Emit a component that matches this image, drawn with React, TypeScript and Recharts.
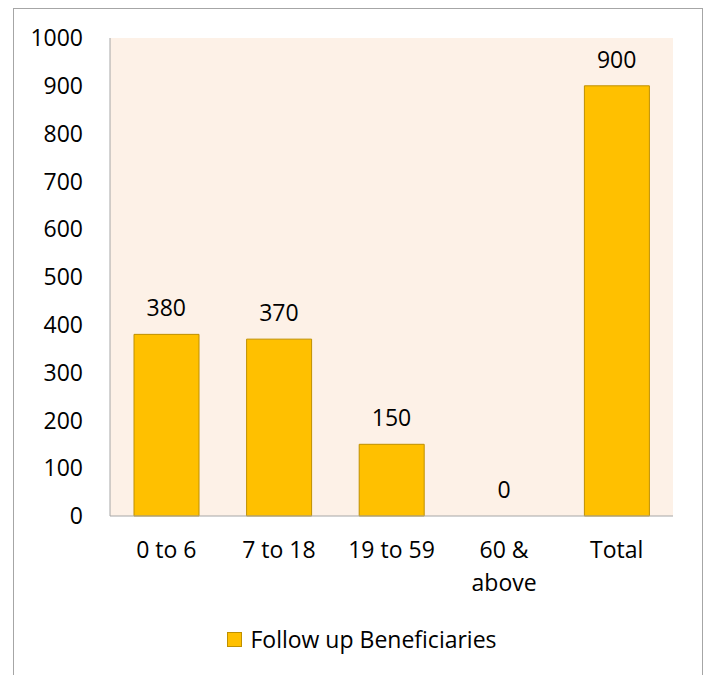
import React from 'react';
import { ComposedChart, Bar, Line, XAxis, YAxis, CartesianGrid, LabelList, Legend } from 'recharts';

const categories = ['0 to 6', '7 to 18', '19 to 59', '60 & above', 'Total'];
const followUp = [380, 370, 150, 0, 900];
const yTicks = [0, 100, 200, 300, 400, 500, 600, 700, 800, 900, 1000];
const seriesName = 'Follow up Beneficiaries';

const data = categories.map((category, i) => ({ category, value: followUp[i] }));

const FONT = '"Open Sans", sans-serif';
const FONT_SIZE = 23;
const AXIS_GREY = '#A6A6A6';
const BAR_FILL = '#FFC000';
const BAR_EDGE = '#BF9000';

// wrap a label the way Excel did: break between words past ~8 chars
function wrapLabel(label: string, maxChars = 8) {
  const lines: string[] = [];
  let cur = '';
  for (const w of label.split(' ')) {
    const next = cur ? cur + ' ' + w : w;
    if (next.length > maxChars && cur) {
      lines.push(cur);
      cur = w;
    } else {
      cur = next;
    }
  }
  if (cur) lines.push(cur);
  return lines;
}

function CategoryTick(props: any) {
  const { x, y, payload } = props;
  const lines = wrapLabel(String(payload.value));
  return (
    <text x={x} y={y} textAnchor="middle" fontSize={FONT_SIZE} fontFamily={FONT} fill="#000">
      {lines.map((l, i) => (
        <tspan key={i} x={x} dy={i === 0 ? '0.71em' : 33}>
          {l}
        </tspan>
      ))}
    </text>
  );
}

function LegendContent() {
  return (
    <div
      style={{
        height: 44,
        display: 'flex',
        alignItems: 'center',
        justifyContent: 'center',
        paddingLeft: 9,
        fontFamily: FONT,
        fontSize: FONT_SIZE,
        color: '#000',
      }}
    >
      <span
        style={{
          width: 13,
          height: 13,
          background: BAR_FILL,
          border: `1px solid ${BAR_EDGE}`,
          marginRight: 8,
        }}
      />
      <span>{seriesName}</span>
    </div>
  );
}

export default function App() {
  return (
    <div style={{ position: 'absolute', left: 0, top: 0, width: 707, height: 675, overflow: 'hidden', background: '#fff', fontFamily: FONT }}>
      <div
        style={{
          position: 'absolute',
          left: 13,
          top: 8,
          width: 688,
          height: 700,
          border: `1px solid ${AXIS_GREY}`,
        }}
      />
      <div style={{ position: 'absolute', left: 0, top: 0 }}>
        <ComposedChart width={707} height={675} data={data} margin={{ top: 38, right: 34, left: 0, bottom: 14 }}>
          <CartesianGrid horizontal={false} vertical={false} fill="#FDF1E7" />
          <XAxis
            dataKey="category"
            interval={0}
            tickLine={false}
            tickSize={0}
            tickMargin={26}
            height={101}
            axisLine={{ stroke: AXIS_GREY }}
            tick={<CategoryTick />}
          />
          <YAxis
            domain={[0, 1000]}
            ticks={yTicks}
            interval={0}
            width={110}
            tickLine={false}
            tickSize={0}
            tickMargin={27}
            axisLine={{ stroke: AXIS_GREY }}
            tick={{ fontSize: FONT_SIZE, fill: '#000', fontFamily: FONT }}
          />
          <Legend
            verticalAlign="bottom"
            height={44}
            wrapperStyle={{ left: 13, width: 689 }}
            content={<LegendContent />}
          />
          <Bar dataKey="value" name={seriesName} fill={BAR_FILL} stroke={BAR_EDGE} strokeWidth={1} barSize={65} isAnimationActive={false} />
          {/* invisible carrier for the data labels, so the zero bar gets its "0" too */}
          <Line dataKey="value" stroke="none" dot={false} activeDot={false} legendType="none" isAnimationActive={false}>
            <LabelList dataKey="value" position="top" offset={18} fill="#000" fontSize={FONT_SIZE} fontFamily={FONT} />
          </Line>
        </ComposedChart>
      </div>
    </div>
  );
}
